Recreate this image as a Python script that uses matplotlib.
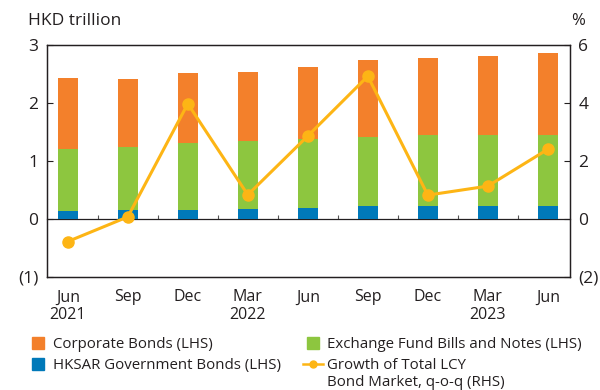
import matplotlib
matplotlib.use("Agg")
import matplotlib.pyplot as plt
import numpy as np
from matplotlib.lines import Line2D

plt.rcParams['font.family'] = ['Open Sans', 'DejaVu Sans']

periods = ["Jun\n2021", "Sep", "Dec", "Mar\n2022", "Jun", "Sep", "Dec", "Mar\n2023", "Jun"]
hksar_gov = [0.13, 0.15, 0.16, 0.17, 0.18, 0.22, 0.22, 0.22, 0.22]
efbn = [1.07, 1.09, 1.15, 1.17, 1.20, 1.20, 1.22, 1.22, 1.23]
corporate = [1.22, 1.17, 1.20, 1.19, 1.24, 1.32, 1.33, 1.36, 1.41]
growth = [-0.78, 0.07, 3.97, 0.83, 2.86, 4.92, 0.82, 1.13, 2.40]

c_corp = "#F3802B"
c_efbn = "#8DC63F"
c_gov = "#0079B9"
c_line = "#FDB515"
ink = "#231F20"

fig = plt.figure(figsize=(6, 3.9), dpi=100)
ax = fig.add_axes([0.078, 0.29, 0.872, 0.595])

x = np.arange(len(periods))
w = 0.33
gov = np.array(hksar_gov)
ef = np.array(efbn)
co = np.array(corporate)
ax.bar(x, gov, w, color=c_gov, zorder=2)
ax.bar(x, ef, w, bottom=gov, color=c_efbn, zorder=2)
ax.bar(x, co, w, bottom=gov + ef, color=c_corp, zorder=2)

ax.set_ylim(-1, 3)
ax.set_xlim(-0.35, len(periods) - 1 + 0.37)
ax.set_yticks([-1, 0, 1, 2, 3])
ax.set_yticklabels(["(1)", "0", "1", "2", "3"])
ax.tick_params(axis='y', direction='in', length=4, width=0.8, color=ink,
               labelsize=12.5, labelcolor=ink, pad=6)
ax.set_xticks(x)
ax.set_xticklabels(periods)
ax.tick_params(axis='x', length=0, labelsize=11.5, labelcolor=ink, pad=9)
for t in ax.get_xticklabels():
    t.set_linespacing(1.15)
for s in ax.spines.values():
    s.set_color(ink)
    s.set_linewidth(0.9)

# zero line with small separator ticks between periods
zero_ax = ax.secondary_xaxis(0.25)
zero_ax.spines['bottom'].set_color(ink)
zero_ax.spines['bottom'].set_linewidth(0.9)
zero_ax.set_xticks(x[:-1] + 0.5)
zero_ax.tick_params(axis='x', direction='in', length=3, width=0.8, color="#555555",
                    labelbottom=False)

ax2 = ax.twinx()
ax2.set_ylim(-2, 6)
ax2.set_yticks([-2, 0, 2, 4, 6])
ax2.set_yticklabels(["(2)", "0", "2", "4", "6"])
ax2.tick_params(axis='y', direction='in', length=4, width=0.8, color=ink,
                labelsize=12.5, labelcolor=ink, pad=6)
for s in ax2.spines.values():
    s.set_color(ink)
    s.set_linewidth(0.9)
ax2.plot(x, growth, color=c_line, lw=2.2, marker='o', ms=8, zorder=3)

fig.text(0.047, 0.945, "HKD trillion", fontsize=12.5, color=ink, ha='left', va='center')
fig.text(0.963, 0.945, "%", fontsize=12, color=ink, ha='center', va='center')

def square(color, label):
    return Line2D([], [], ls='none', marker='s', ms=8, color=color, label=label)

handles = [
    square(c_corp, "Corporate Bonds (LHS)"),
    square(c_gov, "HKSAR Government Bonds (LHS)"),
    square(c_efbn, "Exchange Fund Bills and Notes (LHS)"),
    Line2D([0], [0], color=c_line, lw=1.8, marker='o', ms=5,
           label="Growth of Total LCY"),
]
leg = fig.legend(handles=handles, ncol=2, loc='upper left', bbox_to_anchor=(0.047, 0.135),
                 frameon=False, fontsize=10.8, handlelength=1.35,
                 handletextpad=0.3, columnspacing=1.45, labelspacing=0.38,
                 borderaxespad=0, borderpad=0)
for t in leg.get_texts():
    t.set_color(ink)

# continuation line of the growth legend entry, placed under its first line
fig.canvas.draw()
first = leg.get_texts()[-1]
bb = first.get_window_extent().transformed(fig.transFigure.inverted())
fig.text(bb.x0, bb.y0 - 0.005, "Bond Market, q-o-q (RHS)", fontsize=10.8, color=ink,
         ha='left', va='top')

fig.savefig("out.png", dpi=100)
